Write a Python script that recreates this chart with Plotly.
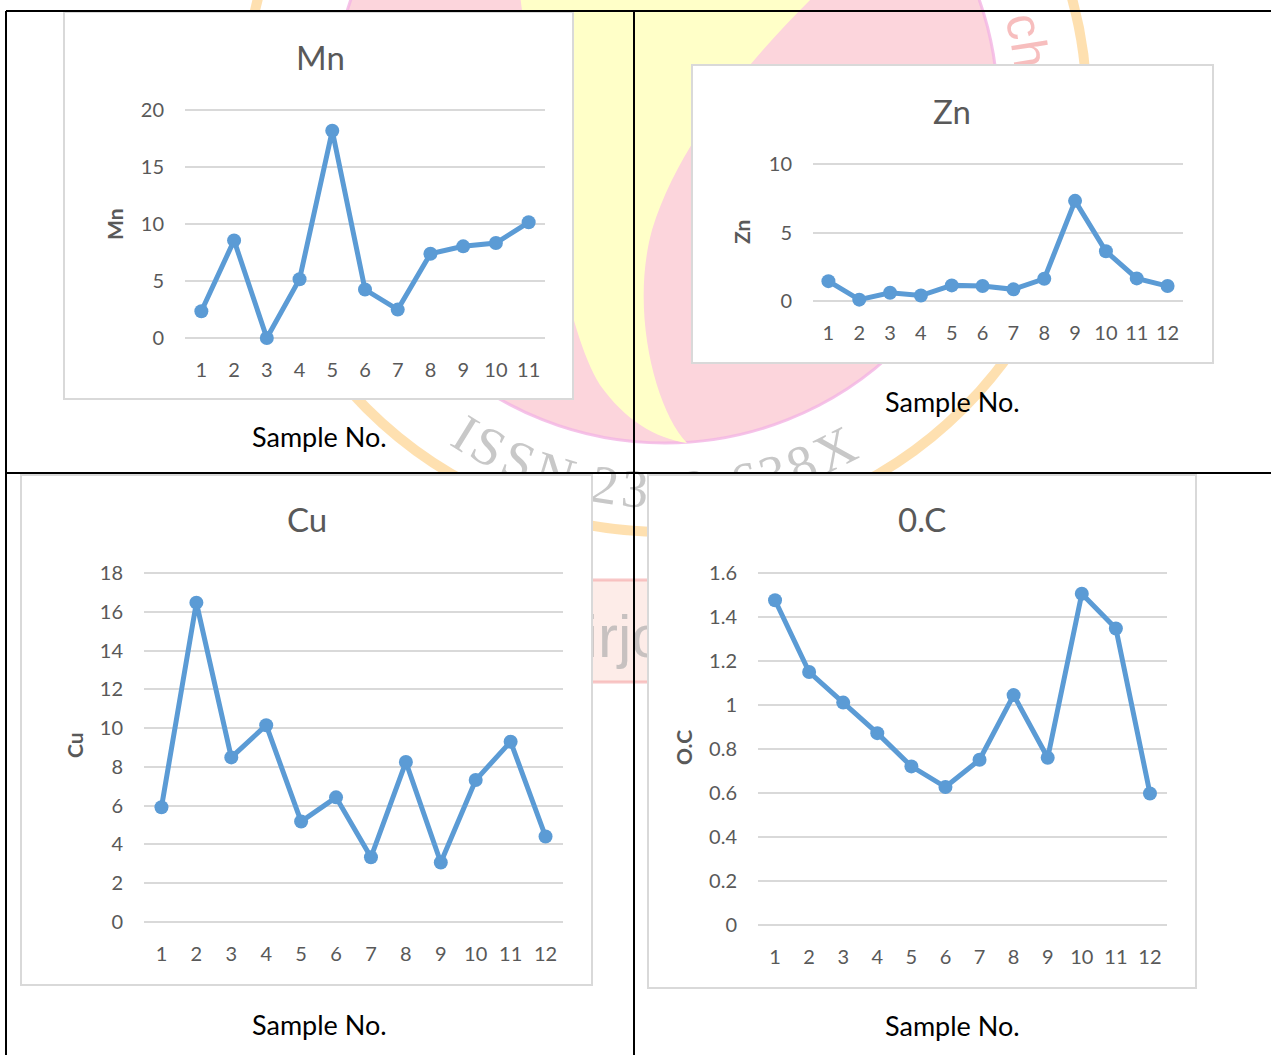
import math
import plotly.graph_objects as go

W, H = 1271, 1055

# ---- data -------------------------------------------------------------
samples_mn = [1, 2, 3, 4, 5, 6, 7, 8, 9, 10, 11]
samples = [1, 2, 3, 4, 5, 6, 7, 8, 9, 10, 11, 12]
mn = [2.35, 8.56, 0.0, 5.16, 18.18, 4.25, 2.49, 7.39, 8.04, 8.33, 10.15]
zn = [1.45, 0.1, 0.6, 0.4, 1.14, 1.09, 0.85, 1.62, 7.31, 3.63, 1.65, 1.09]
cu = [5.92, 16.47, 8.49, 10.15, 5.18, 6.43, 3.34, 8.25, 3.07, 7.32, 9.30, 4.41]
oc = [1.476, 1.150, 1.011, 0.872, 0.721, 0.627, 0.751, 1.045, 0.760, 1.506, 1.348, 0.598]

titles = ["Mn", "Zn", "Cu", "0.C"]
y_titles = ["Mn", "Zn", "Cu", "O.C"]
x_title = "Sample No."

BLUE = "#5B9BD5"
GRID = "#D9D9D9"
GREY_TXT = "#595959"
FONT = "Lato"


def px(x):
    return x / W


def py(y):
    return 1 - y / H


# panel geometry (pixels): chart box, plot grid extents, value range, label spots
panels = [
    dict(x=samples_mn, y=mn, box=(64, 12, 573, 399), gx=(185, 545), gy=(110, 338),
         vr=(0, 20), dtick=5, title=(320, 57), ytitle=(115, 224), xlab=(319, 437)),
    dict(x=samples, y=zn, box=(692, 65, 1213, 363), gx=(813, 1183), gy=(164, 301),
         vr=(0, 10), dtick=5, title=(952, 111), ytitle=(741, 232), xlab=(952, 401)),
    dict(x=samples, y=cu, box=(21, 475, 592, 985), gx=(144, 563), gy=(573, 922),
         vr=(0, 18), dtick=2, title=(307, 519), ytitle=(74, 745), xlab=(319, 1024)),
    dict(x=samples, y=oc, box=(648, 475, 1196, 988), gx=(758, 1167), gy=(573, 925),
         vr=(0, 1.6), dtick=0.2, title=(922, 519), ytitle=(683, 748), xlab=(952, 1025)),
]

fig = go.Figure()
shapes = []
annotations = []

# ---- background logo (faint) ------------------------------------------
CX, CY = 665, 110


def circle(cx, cy, r, **kw):
    return dict(type="circle", xref="paper", yref="paper", layer="below",
                x0=px(cx - r), x1=px(cx + r), y0=py(cy + r), y1=py(cy - r), **kw)


def path_from(points_cmds):
    out = []
    for cmd, pts in points_cmds:
        coords = " ".join(f"{px(a):.5f},{py(b):.5f}" for a, b in pts)
        out.append(f"{cmd} {coords}")
    return " ".join(out) + " Z"


# outer orange ring
shapes.append(circle(CX, CY, 422, line=dict(color="rgba(253,214,150,0.75)", width=10),
                     fillcolor="rgba(0,0,0,0)"))
# pink disc
shapes.append(circle(CX, CY, 333, line=dict(color="rgba(243,180,228,0.8)", width=3),
                     fillcolor="rgba(252,213,220,1)"))
# yellow swoosh
swoosh = path_from([
    ("M", [(687, 443)]),
    ("C", [(655, 410), (630, 310), (652, 230)]),
    ("C", [(680, 140), (750, 60), (815, -5)]),
    ("L", [(520, -5)]),
    ("C", [(540, 150), (560, 320), (600, 385)]),
    ("C", [(625, 420), (655, 438), (687, 443)]),
])
shapes.append(dict(type="path", xref="paper", yref="paper", layer="below", path=swoosh,
                   fillcolor="rgba(255,255,200,1)", line=dict(width=0)))

# lower banner of the logo
shapes.append(dict(type="rect", xref="paper", yref="paper", layer="below",
                   x0=px(470), x1=px(870), y0=py(682), y1=py(580),
                   fillcolor="rgba(253,236,232,1)",
                   line=dict(color="rgba(245,175,175,0.7)", width=3)))
shapes.append(dict(type="rect", xref="paper", yref="paper", layer="below",
                   x0=px(668), x1=px(668), y0=py(630), y1=py(630),
                   fillcolor="rgba(0,0,0,0)", line=dict(width=0),
                   label=dict(text="aiirjournal", textposition="middle center",
                              font=dict(family="Liberation Sans", size=60,
                                        color="rgba(175,175,175,0.7)"))))


def char_label(ch, x, y, angle, family, size, color):
    return dict(type="rect", xref="paper", yref="paper", layer="below",
                x0=px(x), x1=px(x), y0=py(y), y1=py(y),
                fillcolor="rgba(0,0,0,0)", line=dict(width=0),
                label=dict(text=ch, textangle=angle, textposition="middle center",
                           font=dict(family=family, size=size, color=color)))


# ISSN text along the lower arc (reads left to right, letters upright toward centre)
issn = "ISSN 2349-638X"
serif_w = {"I": .333, "S": .556, "N": .722, " ": .25, "-": .333, "X": .722}
widths = [serif_w.get(c, .5) for c in issn]
centres = []
acc = 0
for w in widths:
    centres.append(acc + w / 2)
    acc += w
span = centres[-1] - centres[0]
th0, th1 = 121.7, 63.4
R_TXT = 374
for c, pos in zip(issn, centres):
    if c == " ":
        continue
    th = th0 + (th1 - th0) * (pos - centres[0]) / span
    t = math.radians(th)
    x = CX + R_TXT * math.cos(t)
    y = CY + R_TXT * math.sin(t)
    shapes.append(char_label(c, x, y, th - 90, "Liberation Serif", 54,
                             "rgba(170,170,170,0.65)"))

# fragment of the upper arc lettering (reads clockwise)
fragment = "ch"
sans_w = {"c": .47, "h": .57}
fs = 50
th = -8.8  # centre angle of the last letter
for c in reversed(fragment):
    t = math.radians(th)
    x = CX + R_TXT * math.cos(t)
    y = CY + R_TXT * math.sin(t)
    shapes.append(char_label(c, x, y, th + 90, "Liberation Sans", fs,
                             "rgba(240,125,125,0.5)"))
    th -= math.degrees(sans_w[c] * fs / R_TXT)

# ---- chart boxes (white, light grey frame) ---------------------------
for p in panels:
    x0, y0, x1, y1 = p["box"]
    shapes.append(dict(type="rect", xref="paper", yref="paper", layer="below",
                       x0=px(x0), x1=px(x1), y0=py(y1), y1=py(y0),
                       fillcolor="white", line=dict(color=GRID, width=2)))

# ---- table rules ------------------------------------------------------
rule = dict(color="black", width=2)
for (xa, ya, xb, yb) in [(6, 11, W, 11), (6, 473, W, 473), (6, 11, 6, H), (634, 11, 634, H)]:
    shapes.append(dict(type="line", xref="paper", yref="paper", layer="above",
                       x0=px(xa), x1=px(xb), y0=py(ya), y1=py(yb), line=rule))

# ---- the four line charts ----------------------------------------------
PAD = 12
for i, p in enumerate(panels, start=1):
    xs = "" if i == 1 else str(i)
    gx0, gx1 = p["gx"]
    gy0, gy1 = p["gy"]
    v0, v1 = p["vr"]
    scale = (gy1 - gy0) / (v1 - v0)
    n = len(p["x"])
    fig.add_trace(go.Scatter(
        x=p["x"], y=p["y"], mode="lines+markers",
        line=dict(color=BLUE, width=5),
        marker=dict(size=14, color=BLUE),
        cliponaxis=False, showlegend=False, hoverinfo="skip",
        xaxis="x" + xs, yaxis="y" + xs,
    ))
    fig.update_layout(**{
        "xaxis" + xs: dict(
            domain=[px(gx0), px(gx1)], range=[0.5, n + 0.5], anchor="y" + xs,
            tickvals=p["x"], showgrid=False, zeroline=False, showline=False,
            ticks="outside", ticklen=2, tickcolor="rgba(0,0,0,0)",
            tickfont=dict(family=FONT, size=20, color=GREY_TXT), fixedrange=True,
        ),
        "yaxis" + xs: dict(
            domain=[py(gy1 + PAD), py(gy0 - PAD)],
            range=[v0 - PAD / scale, v1 + PAD / scale], anchor="x" + xs,
            dtick=p["dtick"], tick0=0, showgrid=True, gridcolor=GRID, gridwidth=2,
            zeroline=True, zerolinecolor=GRID, zerolinewidth=2, showline=False,
            ticks="outside", ticklen=16, tickcolor="rgba(0,0,0,0)",
            tickfont=dict(family=FONT, size=20, color=GREY_TXT), fixedrange=True,
        ),
    })
    tx, ty = p["title"]
    annotations.append(dict(text=titles[i - 1], x=px(tx), y=py(ty), xref="paper", yref="paper",
                            showarrow=False, xanchor="center", yanchor="middle",
                            font=dict(family=FONT, size=33, color=GREY_TXT)))
    ax_, ay_ = p["ytitle"]
    annotations.append(dict(text="<b>" + y_titles[i - 1] + "</b>", x=px(ax_), y=py(ay_),
                            xref="paper", yref="paper", showarrow=False, textangle=-90,
                            xanchor="center", yanchor="middle",
                            font=dict(family=FONT, size=21, color=GREY_TXT)))
    lx, ly = p["xlab"]
    annotations.append(dict(text=x_title, x=px(lx), y=py(ly), xref="paper", yref="paper",
                            showarrow=False, xanchor="center", yanchor="middle",
                            font=dict(family=FONT, size=27, color="black")))

fig.update_layout(
    width=W, height=H, margin=dict(l=0, r=0, t=0, b=0),
    paper_bgcolor="white", plot_bgcolor="rgba(0,0,0,0)",
    shapes=shapes, annotations=annotations, showlegend=False,
)

fig.write_html("out.html")
